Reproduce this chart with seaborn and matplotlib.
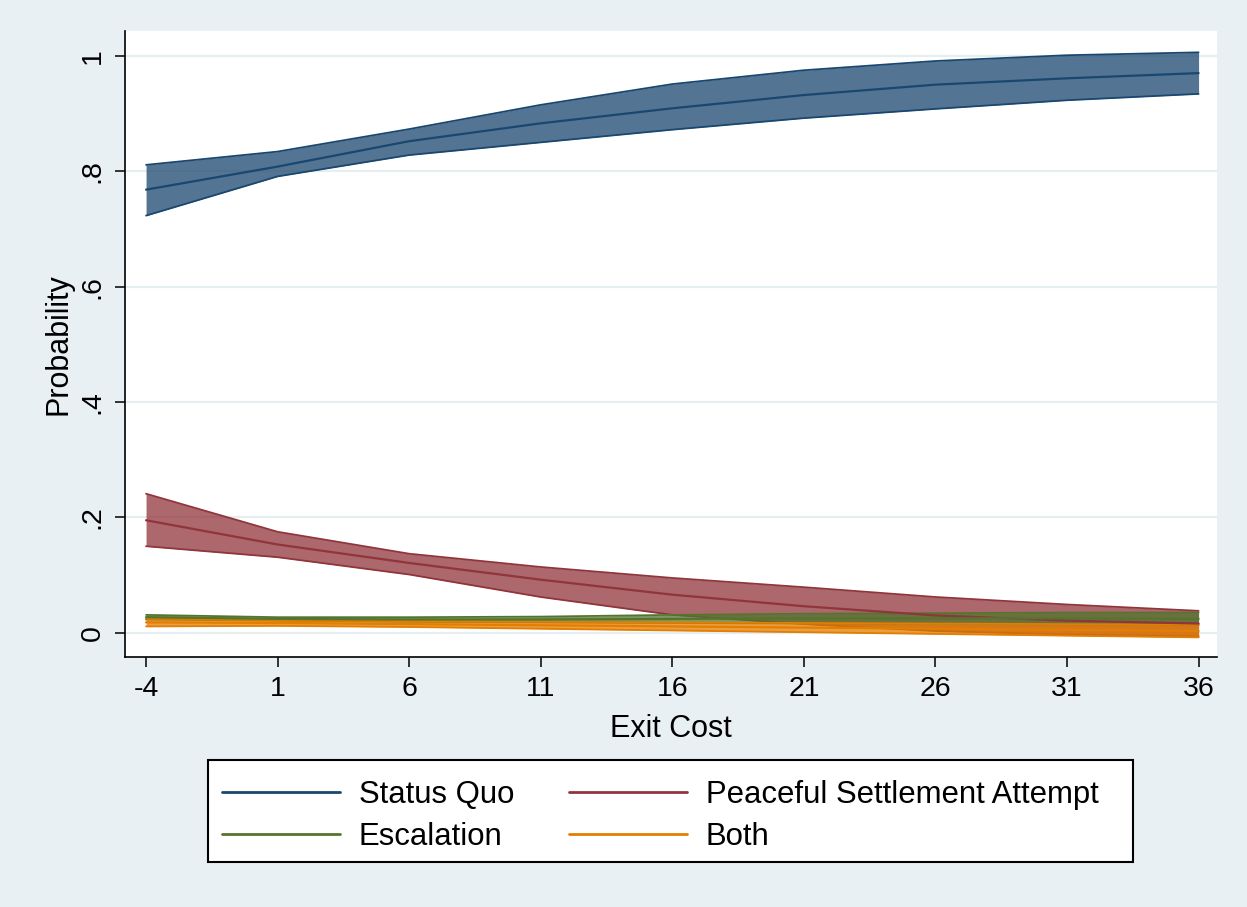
import matplotlib
matplotlib.use("Agg")
import matplotlib.pyplot as plt
from matplotlib.patches import Rectangle
import seaborn as sns
import pandas as pd

# Predicted probabilities by exit cost, with 95% confidence bounds
exit_cost = [-4, 1, 6, 11, 16, 21, 26, 31, 36]

status_quo = [0.768, 0.808, 0.852, 0.883, 0.909, 0.932, 0.950, 0.961, 0.970]
status_quo_lo = [0.723, 0.791, 0.828, 0.850, 0.872, 0.892, 0.908, 0.923, 0.934]
status_quo_hi = [0.811, 0.834, 0.873, 0.915, 0.951, 0.975, 0.991, 1.001, 1.006]

peaceful = [0.195, 0.153, 0.121, 0.092, 0.066, 0.046, 0.030, 0.021, 0.016]
peaceful_lo = [0.150, 0.131, 0.101, 0.062, 0.031, 0.015, 0.003, -0.003, -0.006]
peaceful_hi = [0.241, 0.175, 0.137, 0.114, 0.095, 0.079, 0.062, 0.049, 0.038]

escalation = [0.027, 0.024, 0.023, 0.023, 0.024, 0.025, 0.025, 0.025, 0.024]
escalation_lo = [0.023, 0.021, 0.019, 0.018, 0.017, 0.016, 0.015, 0.014, 0.013]
escalation_hi = [0.031, 0.027, 0.027, 0.028, 0.031, 0.033, 0.034, 0.035, 0.035]

both = [0.018, 0.017, 0.015, 0.013, 0.011, 0.009, 0.007, 0.005, 0.003]
both_lo = [0.011, 0.012, 0.010, 0.007, 0.004, 0.001, -0.002, -0.005, -0.008]
both_hi = [0.025, 0.022, 0.020, 0.019, 0.018, 0.017, 0.016, 0.015, 0.014]

outcomes = ["Status Quo", "Peaceful Settlement Attempt", "Escalation", "Both"]
colors = ["#1a476f", "#90353b", "#55752f", "#e37e00"]

y_ticks = [0, 0.2, 0.4, 0.6, 0.8, 1.0]
y_tick_labels = ["0", ".2", ".4", ".6", ".8", "1"]

series = {
    "Status Quo": (status_quo, status_quo_lo, status_quo_hi),
    "Peaceful Settlement Attempt": (peaceful, peaceful_lo, peaceful_hi),
    "Escalation": (escalation, escalation_lo, escalation_hi),
    "Both": (both, both_lo, both_hi),
}

rows = []
for name in outcomes:
    mean, lo, hi = series[name]
    for x, m, l, h in zip(exit_cost, mean, lo, hi):
        rows.append({"Exit Cost": x, "Probability": m, "lo": l, "hi": h, "Outcome": name})
df = pd.DataFrame(rows)

sns.set_theme(style="white")
plt.rcParams["font.family"] = ["Liberation Sans", "DejaVu Sans"]

W, H = 1247, 907
bg = "#e9f0f3"
tick_fs = 20.5
title_fs = 22
legend_fs = 22.4
fig = plt.figure(figsize=(W / 100, H / 100), dpi=100, facecolor=bg)
ax = fig.add_axes([125 / W, 1 - 657 / H, (1217 - 125) / W, (657 - 31) / H])
ax.set_facecolor("white")

# horizontal grid
for yv in y_ticks:
    ax.axhline(yv, color="#e6eef1", lw=1.6, zorder=0)

# confidence bands
for name, col in zip(outcomes, colors):
    sub = df[df["Outcome"] == name]
    ax.fill_between(sub["Exit Cost"], sub["lo"], sub["hi"], color=col, alpha=0.75,
                    lw=0, zorder=1)
    ax.plot(sub["Exit Cost"], sub["lo"], color=col, lw=1.3, zorder=1)
    ax.plot(sub["Exit Cost"], sub["hi"], color=col, lw=1.3, zorder=1)

# point estimates
sns.lineplot(data=df, x="Exit Cost", y="Probability", hue="Outcome",
             hue_order=outcomes, palette=colors, lw=1.6, ax=ax, zorder=2,
             legend=False, estimator=None)

ax.set_xlim(-4.8, 36.7)
ax.set_ylim(-0.042, 1.043)
ax.set_xticks(exit_cost)
ax.set_xticklabels([str(v) for v in exit_cost])
ax.set_yticks(y_ticks)
ax.set_yticklabels(y_tick_labels, rotation=90, va="center")

for s in ["top", "right"]:
    ax.spines[s].set_visible(False)
for s in ["left", "bottom"]:
    ax.spines[s].set_color("black")
    ax.spines[s].set_linewidth(1.2)

ax.tick_params(axis="both", which="major", length=7, width=1.1, color="black",
               labelsize=tick_fs, labelcolor="black", pad=7, direction="out",
               left=True, bottom=True)
ax.set_xlabel("Exit Cost", fontsize=title_fs, color="black", labelpad=8)
ax.set_ylabel("Probability", fontsize=title_fs, color="black", labelpad=4)

# legend box
box_l, box_r, box_t, box_b = 208, 1133, 760, 862
fig.patches.append(Rectangle((box_l / W, 1 - box_b / H), (box_r - box_l) / W,
                             (box_b - box_t) / H, transform=fig.transFigure,
                             facecolor="white", edgecolor="black", lw=1.5,
                             zorder=3))

# legend laid out row by row: Status Quo | Peaceful Settlement Attempt / Escalation | Both
order = [0, 2, 1, 3]
handles = [plt.Line2D([], [], color=colors[i], lw=2) for i in order]
labels = [outcomes[i] for i in order]
leg = fig.legend(handles, labels, loc="upper left", ncol=2,
                 bbox_to_anchor=(box_l / W, 1 - (box_t + 6) / H),
                 fontsize=legend_fs, frameon=False, labelcolor="black",
                 handlelength=3.8, handletextpad=0.6, columnspacing=1.75,
                 labelspacing=0.38, borderpad=0.45, borderaxespad=0)
leg.set_zorder(4)

fig.savefig("out.png", dpi=100, facecolor=bg)
